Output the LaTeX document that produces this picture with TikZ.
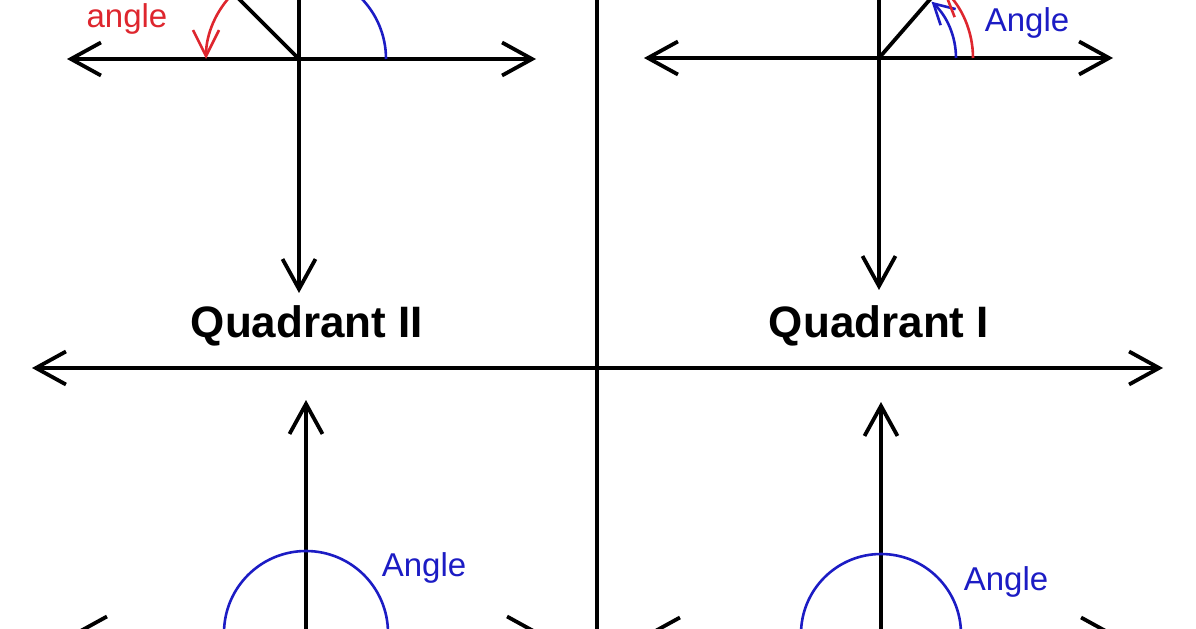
\documentclass[tikz,border=0pt]{standalone}
\usepackage{fontspec}
\setmainfont{Liberation Sans}
\usetikzlibrary{arrows.meta}

\definecolor{angleblue}{RGB}{28,28,196}
\definecolor{anglered}{RGB}{222,38,46}

\tikzset{
  axis/.style={line width=1.9pt, {Straight Barb[length=15pt,width=16.5pt]}-{Straight Barb[length=15pt,width=16.5pt]}},
  halfaxis/.style={line width=1.9pt, -{Straight Barb[length=15pt,width=16.5pt]}},
  ray/.style={line width=1.9pt},
  turn/.style={line width=1.3pt},
  turntip/.style={turn, -{Straight Barb[length=10pt,width=11pt]}},
  bigtip/.style={turn, -{Straight Barb[length=13pt,width=13pt]}},
  anglelbl/.style={inner sep=0pt, font=\fontsize{16.5}{18}\selectfont},
  quadlbl/.style={inner sep=0pt, font=\bfseries\fontsize{22}{24}\selectfont}
}

\begin{document}
\begin{tikzpicture}[x=0.5pt, y=0.5pt]
  \useasboundingbox (0,0) rectangle (1196,628);
  \clip (0,0) rectangle (1196,628);

  % centre cross
  \draw[axis] (32,260) -- (1163,260);
  \draw[ray] (597,-20) -- (597,650);

  % origins of the four small sketches
  \coordinate (o2) at (299,569);
  \coordinate (o1) at (879,570);
  \coordinate (o3) at (306,-5);
  \coordinate (o4) at (881,-6);

  % Quadrant II
  \draw[axis] (67,569) -- (536,569);
  \draw[halfaxis] (299,660) -- (299,335);
  \draw[ray] (o2) -- ++(135:130);
  \draw[turn, angleblue] ([shift={(0:87)}]o2) arc[start angle=0, end angle=135, radius=87];
  \draw[bigtip, anglered] ([shift={(135:93)}]o2) arc[start angle=135, end angle=180, radius=93];
  \node[anglelbl, text=anglered] (q2red) at (127,609) {angle};
  \node[quadlbl] (q2name) at (307,302) {Quadrant II};

  % Quadrant I
  \draw[axis] (644,570) -- (1113,570);
  \draw[halfaxis] (879,660) -- (879,338);
  \draw[ray] (o1) -- ++(49:130);
  \draw[turntip, angleblue] ([shift={(0:77)}]o1) arc[start angle=0, end angle=47, radius=77];
  \draw[bigtip, anglered] ([shift={(0:94)}]o1) arc[start angle=0, end angle=48, radius=94];
  \node[anglelbl, text=angleblue] (q1blue) at (1027,605) {Angle};
  \node[anglelbl, text=anglered, anchor=base west] (q1red) at (1033,634) {angle};
  \node[quadlbl] (q1name) at (879,302) {Quadrant I};

  % Quadrant III
  \draw[axis] (73,-5) -- (541,-5);
  \draw[halfaxis] (306,-40) -- (306,228);
  \draw[turn, angleblue] ([shift={(0:82)}]o3) arc[start angle=0, end angle=225, radius=82];
  \node[anglelbl, text=angleblue] (q3blue) at (424,60) {Angle};

  % Quadrant IV
  \draw[axis] (646,-6) -- (1115,-6);
  \draw[halfaxis] (881,-40) -- (881,226);
  \draw[turn, angleblue] ([shift={(0:80)}]o4) arc[start angle=0, end angle=300, radius=80];
  \node[anglelbl, text=angleblue] (q4blue) at (1006,46) {Angle};
\end{tikzpicture}
\end{document}
